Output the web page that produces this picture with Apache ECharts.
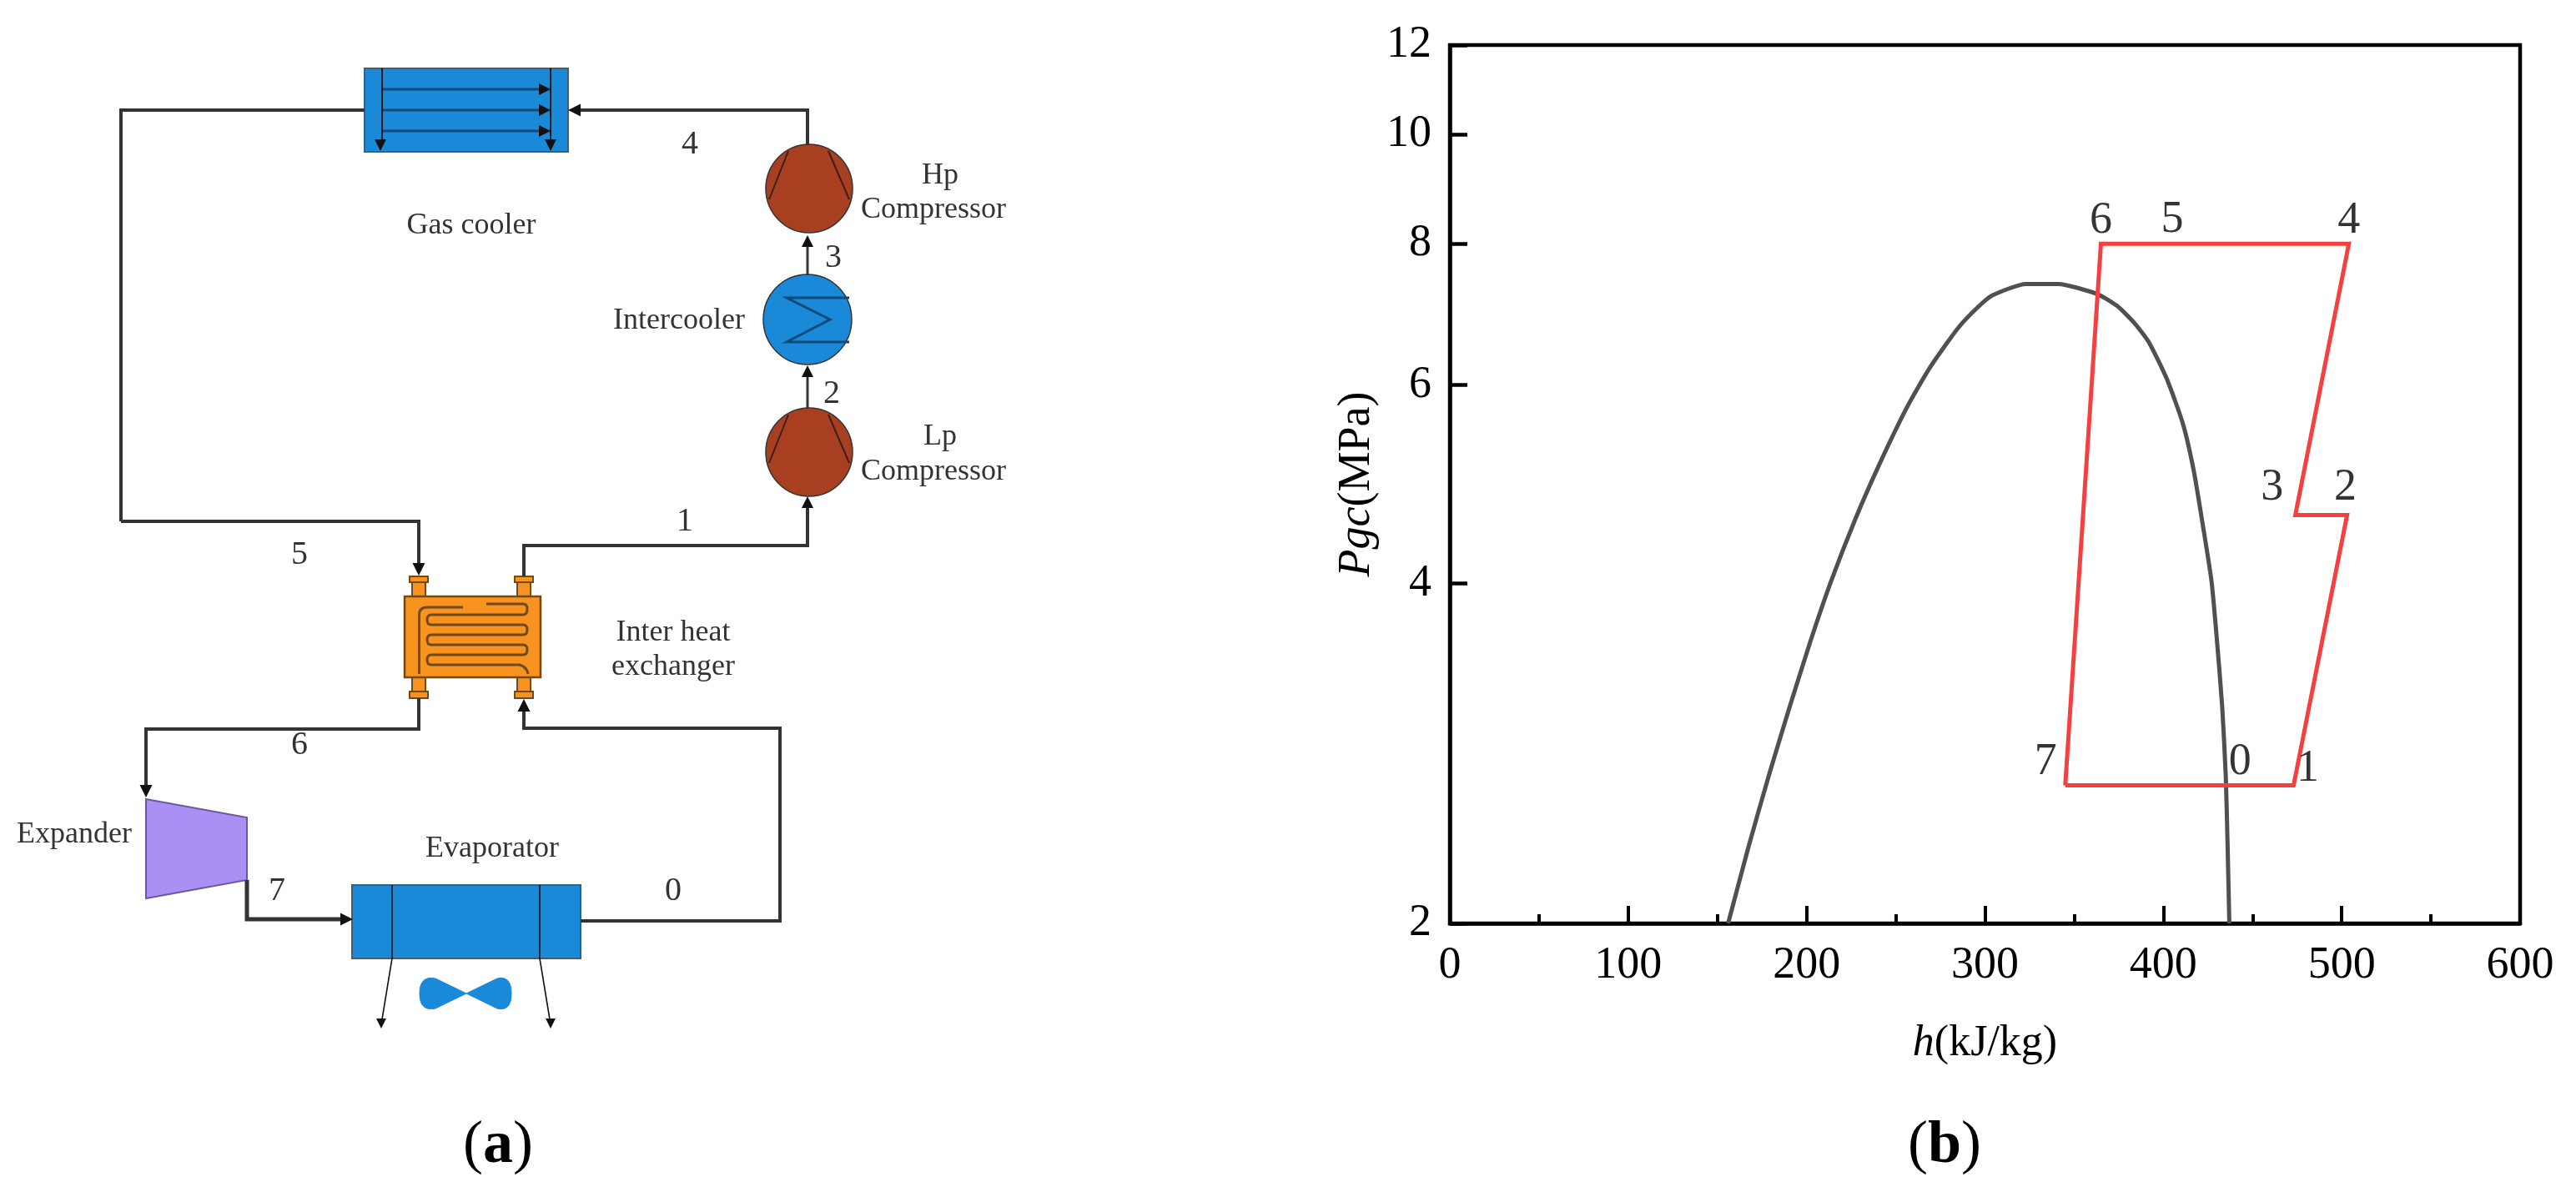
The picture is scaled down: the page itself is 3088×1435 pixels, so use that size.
<!DOCTYPE html>
<html>
<head>
<meta charset="utf-8">
<style>html,body{margin:0;background:#fff}#main{width:3088px;height:1435px}</style>
<script src="https://cdn.jsdelivr.net/npm/echarts@6/dist/echarts.min.js"></script>
</head>
<body>
<div id="main"></div>
<script>
// saturation dome
var domeH = [156, 167.5, 179, 190.5, 202, 213.5, 227, 240, 256, 269, 285, 296, 304, 323, 341, 363, 374, 384, 392, 402, 411, 417, 422, 427, 430, 433, 435, 436, 437];
var domeP = [2, 2.34, 2.71, 3.11, 3.55, 4.01, 4.55, 5.07, 5.72, 6.21, 6.74, 7.03, 7.2, 7.37, 7.37, 7.22, 7.05, 6.8, 6.54, 6.07, 5.54, 5.04, 4.52, 4.02, 3.57, 3.11, 2.7, 2.35, 2];
// cycle 7-1-2-3-4-6-7
var cycleH = [345, 473, 503, 474, 504, 365, 345];
var cycleP = [2.65, 2.65, 4.6, 4.6, 8, 8, 2.65];
// state numbers on the chart
var stateNames = ['6', '5', '4', '3', '2', '7', '0', '1'];
var stateH = [365, 405, 504, 461, 502, 334, 443, 481];
var stateP = [8.38, 8.4, 8.38, 4.86, 4.86, 2.78, 2.78, 2.74];
var pressureTicks = [2, 4, 6, 8, 10, 12];

var SERIF = '"Liberation Serif", serif';
var BLUE = '#1a8ad8', BROWN = '#a83f20', ORANGE = '#f7931e', PIPE = '#333333', COPPER = '#6e4a1c';

var zip = function (a, b) {
    return a.map(function (v, i) {
        return [v, b[i]];
    });
};

var graphics = [];
var pathCount = 0;

var line = function (pts, width, color) {
    graphics.push({
        type: 'polyline',
        shape: { points: pts },
        style: { stroke: color || PIPE, lineWidth: width || 4, fill: null, lineJoin: 'miter' },
        z: 5
    });
};
// arrow head with its tip at x,y
var head = function (x, y, dir, size) {
    var s = size || 14, w = s * 0.5, pts;
    if (dir === 'up') pts = [[x, y], [x - w, y + s], [x + w, y + s]];
    if (dir === 'down') pts = [[x, y], [x - w, y - s], [x + w, y - s]];
    if (dir === 'left') pts = [[x, y], [x + s, y - w], [x + s, y + w]];
    if (dir === 'right') pts = [[x, y], [x - s, y - w], [x - s, y + w]];
    graphics.push({ type: 'polygon', shape: { points: pts }, style: { fill: '#111' }, z: 6 });
};
var rect = function (x, y, w, h, fill, stroke, sw) {
    graphics.push({
        type: 'rect',
        shape: { x: x, y: y, width: w, height: h },
        style: { fill: fill, stroke: stroke, lineWidth: sw || 2 },
        z: 4
    });
};
var circle = function (cx, cy, r, fill) {
    graphics.push({
        type: 'ellipse',
        shape: { cx: cx, cy: cy, rx: r, ry: r + 1 },
        style: { fill: fill, stroke: '#333', lineWidth: 1.5 },
        z: 4
    });
};
var svgPath = function (d, fill, stroke, sw) {
    var name = 'diagramPath' + (pathCount++);
    echarts.graphic.registerShape(name, echarts.graphic.extendPath(d, {}));
    graphics.push({
        type: name,
        style: { fill: fill, stroke: stroke, lineWidth: sw },
        z: 5
    });
};
var label = function (t, x, y, size, color) {
    graphics.push({
        type: 'text',
        style: {
            text: t, x: x, y: y + 2, fill: color || '#333',
            font: size + 'px ' + SERIF, textAlign: 'center', verticalAlign: 'middle'
        },
        z: 7
    });
};

// gas cooler
rect(437, 82, 244, 100, BLUE, '#3f5f78', 2);
line([[145, 625], [145, 132], [437, 132]], 4);
line([[968, 174], [968, 132], [690, 132]], 4);
head(681, 132, 'left', 15);
[107, 132, 157].forEach(function (y) {
    line([[458, y], [650, y]], 3, '#10497a');
    head(660, y, 'right', 14);
});
line([[458, 82], [458, 170]], 2, '#111');
line([[660, 82], [660, 170]], 2, '#111');
head(456, 181, 'down', 14);
head(660, 181, 'down', 14);

// compressors and intercooler
var compressor = function (cy) {
    circle(970, cy, 52, BROWN);
    line([[945, cy - 45], [922, cy + 13]], 2, '#3a2018');
    line([[993, cy - 45], [1018, cy + 13]], 2, '#3a2018');
};
compressor(226);
compressor(542);
circle(968, 383, 53, BLUE);
line([[1018, 357], [943, 357], [995, 383], [943, 410], [1018, 410]], 3, '#10497a');
line([[968, 330], [968, 292]], 3);
head(968, 282, 'up');
line([[968, 489], [968, 448]], 3);
head(968, 438, 'up');

// loop pipes around the internal exchanger
line([[145, 625], [502, 625], [502, 680]], 4);
head(502, 690, 'down', 15);
line([[968, 606], [968, 654], [628, 654], [628, 691]], 4);
head(968, 595, 'up', 14);
line([[502, 837], [502, 874], [175, 874], [175, 945]], 4);
head(175, 956, 'down', 15);
line([[696, 1104], [935, 1104], [935, 873], [628, 873], [628, 850]], 4);
head(628, 838, 'up', 15);

// internal heat exchanger
[502, 628].forEach(function (x) {
    rect(x - 8, 698, 16, 17, ORANGE, COPPER, 2);
    rect(x - 8, 812, 16, 17, ORANGE, COPPER, 2);
    rect(x - 11, 691, 22, 7, ORANGE, COPPER, 2);
    rect(x - 11, 829, 22, 8, ORANGE, COPPER, 2);
});
rect(485, 715, 163, 97, ORANGE, COPPER, 2.5);
svgPath('M502.5 808 L502.5 737 Q502.5 728 512 728 L555 728', 'none', COPPER, 3);
svgPath('M583 724 L627 724 Q632 724 632 730 Q632 737 627 737 L517 737 Q512 737 512 743 Q512 749 517 749 L627 749 Q632 749 632 755 Q632 761 627 761 L517 761 Q512 761 512 767 Q512 773 517 773 L627 773 Q632 773 632 779 Q632 785 627 785 L517 785 Q512 785 512 791 Q512 797 517 797 L623 797 Q632 800 633 808', 'none', COPPER, 3);

// expander
graphics.push({
    type: 'polygon',
    shape: { points: [[175, 958], [296, 980], [296, 1055], [175, 1077]] },
    style: { fill: '#aa90f5', stroke: '#6a5a9a', lineWidth: 2 },
    z: 4
});
line([[296, 1055], [296, 1102], [412, 1102]], 5);
head(423, 1102, 'right', 15);

// evaporator and fan
rect(422, 1061, 274, 88, BLUE, '#3f5f78', 2);
line([[470, 1061], [470, 1149], [458, 1222]], 1.6, '#111');
line([[647, 1061], [647, 1149], [659, 1222]], 1.6, '#111');
head(457, 1233, 'down', 12);
head(660, 1233, 'down', 12);
svgPath('M559 1191 L522 1173 Q503 1169 503 1191 Q503 1213 522 1209 Z', BLUE, BLUE, 1);
svgPath('M559 1191 L596 1173 Q613 1169 613 1191 Q613 1213 596 1209 Z', BLUE, BLUE, 1);

// diagram text
label('4', 827, 171, 40);
label('3', 999, 307, 40);
label('2', 997, 470, 40);
label('1', 821, 623, 40);
label('5', 359, 663, 40);
label('6', 359, 891, 40);
label('7', 332, 1066, 40);
label('0', 807, 1066, 40);
label('Gas cooler', 565, 269, 36);
label('Hp', 1127, 209, 36);
label('Compressor', 1119, 250, 36);
label('Intercooler', 814, 383, 36);
label('Lp', 1127, 522, 36);
label('Compressor', 1119, 564, 36);
label('Inter heat', 807, 757, 36);
label('exchanger', 807, 798, 36);
label('Expander', 89, 999, 36);
label('Evaporator', 590, 1016, 36);

// panel captions
var caption = function (letter, x) {
    graphics.push({
        type: 'text',
        style: {
            text: '(' + '{b|' + letter + '})',
            x: x, y: 1374, fill: '#000',
            font: '72px ' + SERIF, textAlign: 'center', verticalAlign: 'middle',
            rich: { b: { font: 'bold 72px ' + SERIF, fill: '#000' } }
        },
        z: 7
    });
};
caption('a', 597);
caption('b', 2331);

var chart = echarts.init(document.getElementById('main'));
chart.setOption({
    animation: false,
    backgroundColor: '#fff',
    textStyle: { fontFamily: SERIF },
    grid: {
        left: 1738, right: 67, top: 54, bottom: 328,
        show: true, borderColor: '#000', borderWidth: 4.5, backgroundColor: 'transparent'
    },
    xAxis: {
        type: 'value', min: 0, max: 600, interval: 100,
        name: '{i|h}(kJ/kg)', nameLocation: 'middle', nameGap: 118,
        nameTextStyle: { fontSize: 52, color: '#000', fontFamily: SERIF, rich: { i: { fontSize: 52, fontStyle: 'italic', fontFamily: SERIF, color: '#000' } } },
        axisLine: { show: true, onZero: false, lineStyle: { color: '#000', width: 4.5 } },
        axisTick: { show: true, inside: true, length: 21, lineStyle: { color: '#000', width: 4 } },
        minorTick: { show: true, splitNumber: 2, length: 11, lineStyle: { color: '#000', width: 4 } },
        axisLabel: { fontSize: 54, color: '#000', margin: 24, fontFamily: SERIF },
        splitLine: { show: false }
    },
    yAxis: {
        type: 'log', logBase: 2, min: 2, max: 12,
        name: '{i|Pgc}(MPa)', nameLocation: 'middle', nameGap: 84, nameRotate: 90,
        nameTextStyle: { fontSize: 54, color: '#000', fontFamily: SERIF, rich: { i: { fontSize: 54, fontStyle: 'italic', fontFamily: SERIF, color: '#000' } } },
        axisLine: { show: true, onZero: false, lineStyle: { color: '#000', width: 4.5 } },
        axisTick: { show: true, inside: true, length: 21, customValues: pressureTicks, lineStyle: { color: '#000', width: 4.5 } },
        axisLabel: { fontSize: 54, color: '#000', margin: 22, fontFamily: SERIF, customValues: pressureTicks },
        minorTick: { show: false },
        splitLine: { show: false }
    },
    series: [{
        type: 'line', name: 'dome', data: zip(domeH, domeP), showSymbol: false, silent: true,
        smooth: 0.2, lineStyle: { color: '#505050', width: 5 }, z: 2
    }, {
        type: 'line', name: 'cycle', data: zip(cycleH, cycleP), showSymbol: false, silent: true,
        lineStyle: { color: '#f44040', width: 5, join: 'miter' }, z: 3
    }, {
        type: 'scatter', name: 'states', symbolSize: 0, silent: true, z: 4,
        data: stateNames.map(function (n, i) {
            return { name: n, value: [stateH[i], stateP[i]] };
        }),
        label: {
            show: true, position: 'inside', formatter: '{b}',
            fontSize: 54, color: '#000', fontFamily: SERIF
        }
    }],
    graphic: { elements: graphics }
});
</script>
</body>
</html>
